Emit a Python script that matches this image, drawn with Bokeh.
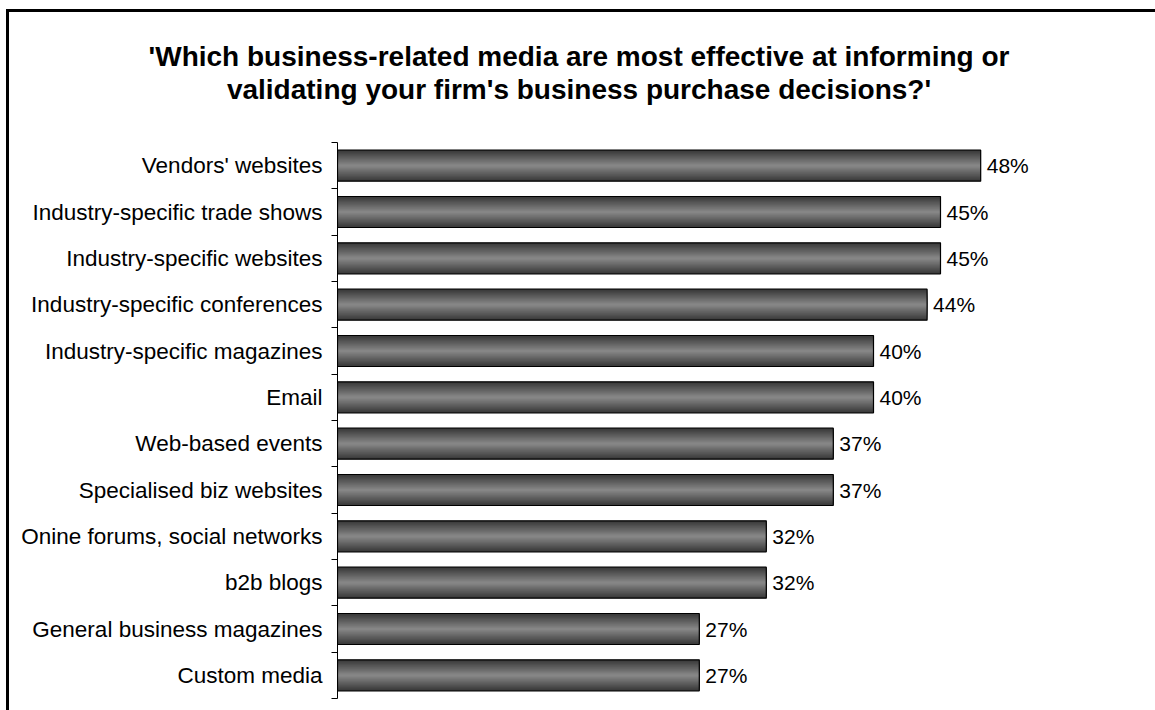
from bokeh.plotting import figure
from bokeh.layouts import column
from bokeh.models import Range1d, FixedTicker, ColumnDataSource, Div
from bokeh.embed import file_html
from bokeh.resources import INLINE
from bokeh.core.properties import value

categories = ["Vendors' websites", "Industry-specific trade shows", "Industry-specific websites",
              "Industry-specific conferences", "Industry-specific magazines", "Email",
              "Web-based events", "Specialised biz websites", "Onine forums, social networks",
              "b2b blogs", "General business magazines", "Custom media"]
values = [48, 45, 45, 44, 40, 40, 37, 37, 32, 32, 27, 27]
value_labels = ["48%", "45%", "45%", "44%", "40%", "40%", "37%", "37%", "32%", "32%", "27%", "27%"]
title_lines = ["'Which business-related media are most effective at informing or",
               "validating your firm's business purchase decisions?'"]

FONT = "Liberation Sans"
W = 1146
TITLE_H = 130
n = len(categories)
centers = [i + 0.5 for i in range(n)]

# ---- title block: two centred bold lines ----
title_html = (
    '<div style="box-sizing:border-box; width:%dpx; height:%dpx; margin:0; '
    'padding:28px 6px 0 0; text-align:center; font-family:\'%s\'; font-weight:bold; '
    'font-size:28px; line-height:33px; color:black; white-space:nowrap;">%s<br>%s</div>'
    % (W, TITLE_H, FONT, title_lines[0].replace("'", "&#39;"), title_lines[1].replace("'", "&#39;"))
)
title_div = Div(text=title_html, width=W, height=TITLE_H,
                styles={"margin": "0", "padding": "0", "background": "white"})

# ---- bar chart ----
src = ColumnDataSource(dict(y=centers, v=values, lab=value_labels))

p = figure(width=W, height=568, output_backend="svg", toolbar_location=None,
           x_range=Range1d(0, 60), y_range=Range1d(n, 0),
           min_border_left=328, min_border_right=14, min_border_top=0, min_border_bottom=12,
           x_axis_location=None)
p.outline_line_color = None
p.grid.visible = False
p.background_fill_color = "white"
p.border_fill_color = "white"

# gradient bars: nested layers from dark edge to light middle
BAR_H = 0.67
steps = 14
dark = (58, 58, 58)
light = (134, 134, 134)
for k in range(steps):
    f = 1 - k / steps
    c = tuple(int(dark[j] + (light[j] - dark[j]) * (k / (steps - 1))) for j in range(3))
    p.hbar(y="y", right="v", left=0, height=BAR_H * f, source=src,
           fill_color="#%02x%02x%02x" % c, line_color=None)
p.hbar(y="y", right="v", left=0, height=BAR_H, source=src,
       fill_alpha=0, line_color="black", line_width=1.2)

p.text(x="v", y="y", text="lab", source=src, x_offset=6,
       text_baseline="middle", text_align="left",
       text_font=value(FONT), text_font_size="21px", text_color="black")

ax = p.yaxis[0]
ax.ticker = FixedTicker(ticks=centers, minor_ticks=list(range(n + 1)))
ax.major_label_overrides = {c: cat for c, cat in zip(centers, categories)}
ax.major_tick_line_color = None
ax.major_tick_out = 0
ax.major_tick_in = 0
ax.minor_tick_line_color = "black"
ax.minor_tick_out = 6
ax.minor_tick_in = 0
ax.axis_line_color = "black"
ax.axis_line_width = 1
ax.major_label_standoff = 9
ax.major_label_text_font = FONT
ax.major_label_text_font_size = "22.5px"
ax.major_label_text_color = "black"

layout = column(title_div, p, spacing=0)
layout.styles = {"border-left": "3px solid black", "border-top": "3px solid black",
                 "margin-left": "6px", "margin-top": "9px", "background": "white"}

open("out.html", "w").write(file_html(layout, INLINE))
